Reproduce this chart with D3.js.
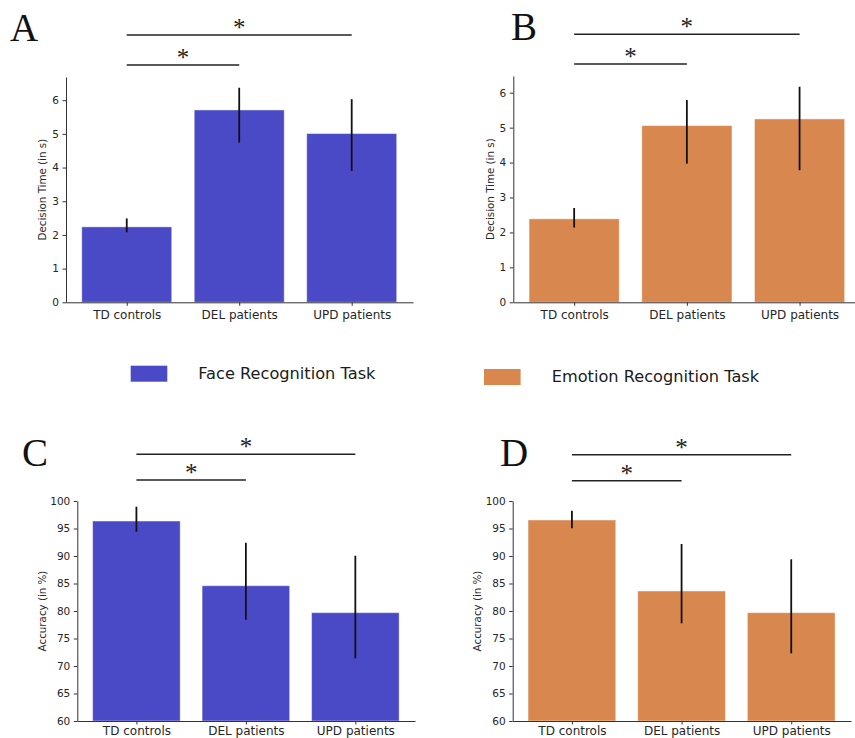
<!DOCTYPE html>
<html>
<head>
<meta charset="utf-8">
<script src="https://cdn.jsdelivr.net/npm/d3@7"></script>
<style>
  html, body { margin: 0; padding: 0; background: #fff; }
  svg { display: block; }
</style>
</head>
<body>
<svg id="chart" width="855" height="738"></svg>
<script>
// ---------------- DATA ----------------
const categories = ["TD controls", "DEL patients", "UPD patients"];

const faceTimeMean = [2.24, 5.71, 5.01];
const faceTimeLow  = [2.08, 4.74, 3.90];
const faceTimeHigh = [2.49, 6.37, 6.03];

const emoTimeMean = [2.39, 5.06, 5.25];
const emoTimeLow  = [2.14, 3.97, 3.78];
const emoTimeHigh = [2.70, 5.79, 6.17];

const faceAccMean = [96.36, 84.6, 79.7];
const faceAccLow  = [94.4, 78.4, 71.4];
const faceAccHigh = [98.96, 92.4, 90.05];

const emoAccMean = [96.55, 83.64, 79.7];
const emoAccLow  = [95.03, 77.76, 72.3];
const emoAccHigh = [98.24, 92.18, 89.4];

const timeTicks = [0, 1, 2, 3, 4, 5, 6];
const accTicks = [60, 65, 70, 75, 80, 85, 90, 95, 100];

const legendLabels = ["Face Recognition Task", "Emotion Recognition Task"];
const panelLabels = ["A", "B", "C", "D"];
const significancePairs = [[0, 2], [0, 1]];
const timeLabel = "Decision Time (in s)";
const accLabel = "Accuracy (in %)";

// ---------------- STYLE ----------------
const BLUE = "#4a4ac6";
const ORANGE = "#d8884f";
const AXIS = "#333";

const svg = d3.select("#chart");

const panels = [
  { label: panelLabels[0], mean: faceTimeMean, low: faceTimeLow, high: faceTimeHigh, color: BLUE,
    yDomain: [0, d3.max(faceTimeHigh) * 1.05], ticks: timeTicks, ylab: timeLabel,
    left: 66, right: 413, top: 77, bottom: 302.3, ylabX: 42, pad: 5,
    labelX: 10, labelY: 41, sigY: [35, 65] },
  { label: panelLabels[1], mean: emoTimeMean, low: emoTimeLow, high: emoTimeHigh, color: ORANGE,
    yDomain: [0, d3.max(emoTimeHigh) * 1.05], ticks: timeTicks, ylab: timeLabel,
    left: 513.3, right: 861, top: 76, bottom: 302.3, ylabX: 490, pad: 5,
    labelX: 511, labelY: 40, sigY: [34.3, 64] },
  { label: panelLabels[2], mean: faceAccMean, low: faceAccLow, high: faceAccHigh, color: BLUE,
    yDomain: [60, 100], ticks: accTicks, ylab: accLabel,
    left: 77.3, right: 415, top: 501, bottom: 721, ylabX: 42, pad: 1.5,
    labelX: 22, labelY: 466, sigY: [454.3, 480] },
  { label: panelLabels[3], mean: emoAccMean, low: emoAccLow, high: emoAccHigh, color: ORANGE,
    yDomain: [60, 100], ticks: accTicks, ylab: accLabel,
    left: 512.7, right: 851, top: 501, bottom: 721, ylabX: 477, pad: 1.5,
    labelX: 500, labelY: 466, sigY: [454.7, 480.7] }
];

panels.forEach(p => {
  const g = svg.append("g");
  const x = d3.scaleLinear().domain([-0.54, 2.545]).range([p.left, p.right]);
  const y = d3.scaleLinear().domain(p.yDomain).range([p.bottom, p.top]);
  const bw = x(0.8) - x(0);

  // bars
  g.selectAll("rect.bar").data(p.mean).join("rect")
    .attr("class", "bar")
    .attr("x", (d, i) => x(i) - bw / 2)
    .attr("width", bw)
    .attr("y", d => y(d))
    .attr("height", d => y(p.yDomain[0]) - y(d))
    .attr("fill", p.color)
    .attr("stroke", "rgba(255,255,255,0.45)")
    .attr("stroke-width", 1);

  // error bars
  g.selectAll("line.err").data(p.mean).join("line")
    .attr("class", "err")
    .attr("x1", (d, i) => x(i)).attr("x2", (d, i) => x(i))
    .attr("y1", (d, i) => y(p.high[i])).attr("y2", (d, i) => y(p.low[i]))
    .attr("stroke", "#111").attr("stroke-width", 1.8);

  // y axis
  const ya = g.append("g").attr("transform", `translate(${p.left},0)`)
    .call(d3.axisLeft(y).tickValues(p.ticks).tickSize(3.5).tickSizeOuter(0).tickPadding(3.5).tickFormat(d3.format("d")));
  // x axis
  const xa = g.append("g").attr("transform", `translate(0,${p.bottom})`)
    .call(d3.axisBottom(x).tickValues([0, 1, 2]).tickSize(3.5).tickSizeOuter(0).tickPadding(p.pad)
      .tickFormat(i => categories[i]));

  [ya, xa].forEach(a => {
    a.select(".domain").attr("stroke", AXIS).attr("stroke-width", 1);
    a.selectAll(".tick line").attr("stroke", AXIS);
    a.selectAll("text").attr("fill", "#262626").style("font-family", "DejaVu Sans");
  });
  ya.selectAll("text").style("font-size", "10.5px");
  xa.selectAll("text").style("font-size", "12px");

  // y label
  g.append("text")
    .attr("transform", `translate(${p.ylabX},${(p.top + p.bottom) / 2}) rotate(-90)`)
    .attr("text-anchor", "middle")
    .attr("dy", "0.35em")
    .style("font-family", "DejaVu Sans").style("font-size", "10.3px")
    .attr("fill", "#262626")
    .text(p.ylab);

  // significance lines
  significancePairs.forEach((pair, k) => {
    const yy = p.sigY[k];
    g.append("line")
      .attr("x1", x(pair[0])).attr("x2", x(pair[1]))
      .attr("y1", yy).attr("y2", yy)
      .attr("stroke", "#222").attr("stroke-width", 1.5);
    g.append("text")
      .attr("x", (x(pair[0]) + x(pair[1])) / 2)
      .attr("y", yy + 1)
      .attr("text-anchor", "middle")
      .style("font-family", "Liberation Serif").style("font-size", "25px")
      .attr("fill", "#222")
      .text("*");
  });

  // panel label
  g.append("text")
    .attr("x", p.labelX).attr("y", p.labelY)
    .style("font-family", "Liberation Serif").style("font-size", "39px")
    .attr("fill", "#111")
    .text(p.label);
});

// legend
const legend = [
  { label: legendLabels[0], color: BLUE, rx: 130.7, ry: 365.7, tx: 198.3, ty: 379 },
  { label: legendLabels[1], color: ORANGE, rx: 484, ry: 369, tx: 551.7, ty: 381.7 }
];
legend.forEach(l => {
  svg.append("rect").attr("x", l.rx).attr("y", l.ry).attr("width", 36.6).attr("height", 16)
    .attr("fill", l.color);
  svg.append("text").attr("x", l.tx).attr("y", l.ty)
    .style("font-family", "DejaVu Sans").style("font-size", "16.2px")
    .attr("fill", "#1a1a1a")
    .text(l.label);
});
</script>
</body>
</html>
